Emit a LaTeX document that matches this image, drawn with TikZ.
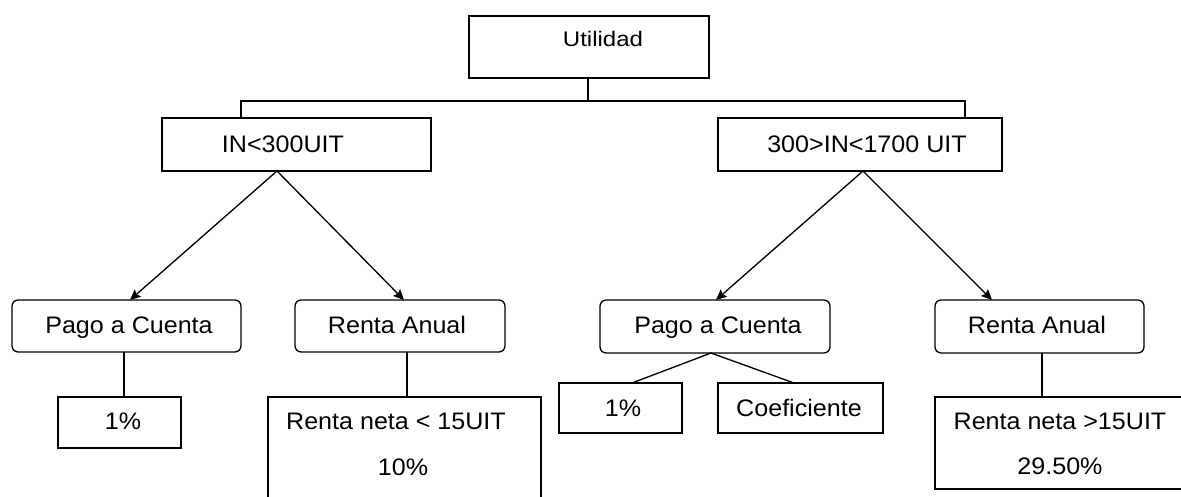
\documentclass[tikz,border=0pt]{standalone}
\usepackage{fontspec}
\setmainfont{Liberation Sans}[FakeStretch=1.05]
\newfontfamily\ufont{Liberation Sans}[FakeStretch=1.14]
\usetikzlibrary{fit,arrows.meta}
\begin{document}
\begin{tikzpicture}[x=0.02cm,y=-0.02cm,
  box/.style={draw,line width=0.75pt,inner sep=0pt,fit={#1}},
  rbox/.style={draw,line width=0.75pt,inner sep=0pt,rounded corners=3.5pt,fit={#1}},
  txt/.style={anchor=base,inner sep=0pt,font=\fontsize{13.6}{16}\selectfont},
  link/.style={line width=0.75pt},
  arr/.style={line width=0.75pt,-{Stealth[length=6pt,width=5.5pt,inset=1pt]}}]
\useasboundingbox (0,0) rectangle (1181,497);
\clip (0,0) rectangle (1181,497);
% boxes
\node[box={(469,16) (709,78)}] (U) {};
\node[box={(162,118) (431,171)}] (IN) {};
\node[box={(718,118) (1002,171)}] (MID) {};
\node[rbox={(12,300) (241,352)}] (PL) {};
\node[rbox={(295,300) (505,352)}] (RL) {};
\node[box={(58,397) (181,448)}] (P1L) {};
\node[box={(268,397) (541,520)}] (RNL) {};
\node[rbox={(600,300) (830,353)}] (PR) {};
\node[rbox={(935,300) (1144,353)}] (RR) {};
\node[box={(559,383) (682,433)}] (P1R) {};
\node[box={(718,383) (883,433)}] (CO) {};
\node[box={(935,397) (1195,489)}] (RNR) {};
% texts
\node[anchor=base,inner sep=0pt,font=\ufont\fontsize{12}{14}\selectfont] (tU) at (603,47) {Utilidad};
\node[txt] (tIN) at (283,152) {IN<300UIT};
\node[txt] (tMID) at (867,152) {300>IN<1700 UIT};
\node[txt] (tPL) at (129,333) {Pago a Cuenta};
\node[txt] (tRL) at (397,333) {Renta Anual};
\node[txt] (t1L) at (123,429) {1\%};
\node[txt] (tRN1) at (396,429) {Renta neta < 15UIT};
\node[txt] (tRN2) at (403,475) {10\%};
\node[txt] (tPR) at (718,333) {Pago a Cuenta};
\node[txt] (tRR) at (1037,333) {Renta Anual};
\node[txt] (t1R) at (623,416) {1\%};
\node[txt] (tCO) at (799,416) {Coeficiente};
\node[txt] (tRR1) at (1060,429) {Renta neta >15UIT};
\node[txt] (tRR2) at (1060,474) {29.50\%};
% connectors
\coordinate (bus) at (588,101);
\coordinate (bl) at (241,118);
\coordinate (br) at (965,118);
\draw[link] (U.south -| bus) -- (bus);
\draw[link] (bl) |- (bus) -| (br);
\coordinate (inL) at (277,171);
\coordinate (inR) at (863,171);
\draw[arr] (inL) -- (130,300);
\draw[arr] (inL) -- (404,300);
\draw[arr] (inR) -- (716,300);
\draw[arr] (inR) -- (992,300);
\draw[link] (124,352) -- (124,397);
\draw[link] (407,352) -- (407,397);
\coordinate (pr) at (711,353);
\draw[link] (pr) -- (632,383);
\draw[link] (pr) -- (794,383);
\draw[link] (1042,353) -- (1042,397);
\end{tikzpicture}
\end{document}
